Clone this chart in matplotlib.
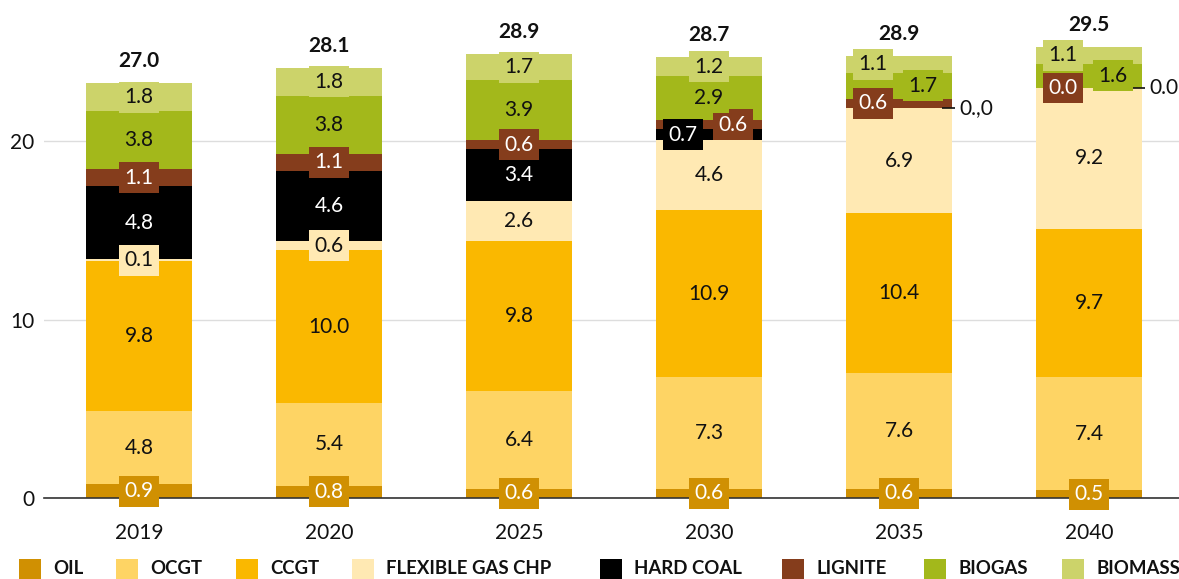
import matplotlib
matplotlib.use("Agg")
import matplotlib.pyplot as plt
from matplotlib.patches import Rectangle

plt.rcParams['font.family'] = ['Lato', 'DejaVu Sans']

# ---- data ----
years = ["2019", "2020", "2025", "2030", "2035", "2040"]
series = ["OIL", "OCGT", "CCGT", "FLEXIBLE GAS CHP", "HARD COAL", "LIGNITE", "BIOGAS", "BIOMASS"]
oil      = [0.9, 0.8, 0.6, 0.6, 0.6, 0.5]
ocgt     = [4.8, 5.4, 6.4, 7.3, 7.6, 7.4]
ccgt     = [9.8, 10.0, 9.8, 10.9, 10.4, 9.7]
flex_chp = [0.1, 0.6, 2.6, 4.6, 6.9, 9.2]
hard_coal = [4.8, 4.6, 3.4, 0.7, 0.0, 0.0]
lignite  = [1.1, 1.1, 0.6, 0.6, 0.6, 0.0]
biogas   = [3.8, 3.8, 3.9, 2.9, 1.7, 1.6]
biomass  = [1.8, 1.8, 1.7, 1.2, 1.1, 1.1]
totals   = ["27.0", "28.1", "28.9", "28.7", "28.9", "29.5"]
yticks = [0, 10, 20]
# zero segments labelled outside the bar (text as printed in the source)
outside_labels = {(4, 4): "0.,0", (5, 4): "0.0"}

values = [oil, ocgt, ccgt, flex_chp, hard_coal, lignite, biogas, biomass]

# ---- style ----
colors = ["#D09002", "#FED464", "#FAB800", "#FFE9B3", "#000000", "#853D1C", "#A3B81B", "#CCD36A"]
text_colors = ["white", "#111111", "#111111", "#111111", "white", "white", "#111111", "#111111"]
# bar heights are drawn on the source chart's axis, which is ~0.857 of the labelled values
SCALE = 0.857
BAR_W = 0.558
FS = 15
label_dx = {(3, 4): -0.137, (3, 5): 0.126, (4, 5): -0.137, (4, 6): 0.126, (4, 7): -0.137,
            (5, 5): -0.137, (5, 6): 0.126, (5, 7): -0.137}
legend_x_px = [19, 116, 236, 352, 600, 782, 924, 1062]

W, H = 1179, 579
fig = plt.figure(figsize=(W / 100, H / 100), dpi=100)
ax_left, ax_bottom, ax_right, ax_top = 44, 498, 1179, 40
ax = fig.add_axes([ax_left / W, (H - ax_bottom) / H, (ax_right - ax_left) / W, (ax_bottom - ax_top) / H])
px_per_unit = (498 - 141) / 20.0
ax.set_ylim(0, (ax_bottom - ax_top) / px_per_unit)
ax.set_xlim(-0.5, -0.5 + (ax_right - ax_left) / 190.0)

x = list(range(len(years)))
bottoms = [0.0] * len(years)
for si, (name, vals) in enumerate(zip(series, values)):
    h = [v * SCALE for v in vals]
    ax.bar(x, h, BAR_W, bottom=bottoms, color=colors[si], zorder=2, linewidth=0)
    for yi in x:
        center_y = bottoms[yi] + h[yi] / 2
        if (yi, si) in outside_labels:
            top = bottoms[yi]
            ax.plot([yi + 0.228, yi + 0.297], [top, top], color="#111111", lw=1.2, zorder=4,
                    solid_capstyle="butt", clip_on=False)
            ax.text(yi + 0.318, top, outside_labels[(yi, si)], ha="left", va="center",
                    fontsize=FS, color="#111111", zorder=5, clip_on=False)
            continue
        ax.text(yi + label_dx.get((yi, si), 0.0), center_y, f"{vals[yi]:.1f}",
                ha="center", va="center", fontsize=FS, color=text_colors[si], zorder=5,
                bbox=dict(boxstyle="square,pad=0.26", fc=colors[si], ec="none"))
    bottoms = [b + hh for b, hh in zip(bottoms, h)]

for yi in x:
    ax.annotate(totals[yi], (yi, bottoms[yi]), xytext=(0, 22), textcoords="offset pixels",
                ha="center", va="center", fontsize=FS, fontweight="bold", color="#111111",
                annotation_clip=False)

ax.set_xticks(x)
ax.set_xticklabels(years, fontsize=FS, color="#111111")
ax.set_yticks(yticks)
ax.set_yticklabels([str(t) for t in yticks], fontsize=FS, color="#111111")
ax.tick_params(axis="both", length=0)
ax.tick_params(axis="x", pad=18)
ax.tick_params(axis="y", pad=7)
ax.yaxis.grid(True, color="#dddddd", lw=1, zorder=0)
ax.set_axisbelow(True)
for s in ["left", "right", "top"]:
    ax.spines[s].set_visible(False)
ax.spines["bottom"].set_color("#333333")
ax.spines["bottom"].set_linewidth(1.2)
ax.spines["bottom"].set_zorder(3)

# legend drawn as a single row of squares + labels (spacing as in source)
sq_w, sq_h, leg_cy = 22, 20, 569
for xp, name, c in zip(legend_x_px, series, colors):
    fig.patches.append(Rectangle((xp / W, (H - leg_cy - sq_h / 2) / H), sq_w / W, sq_h / H,
                                 transform=fig.transFigure, facecolor=c, edgecolor="none"))
    fig.text((xp + sq_w + 12) / W, (H - leg_cy) / H, name, ha="left", va="center",
             fontsize=13.4, fontweight="bold", color="#111111")

fig.savefig("out.png", dpi=100)
